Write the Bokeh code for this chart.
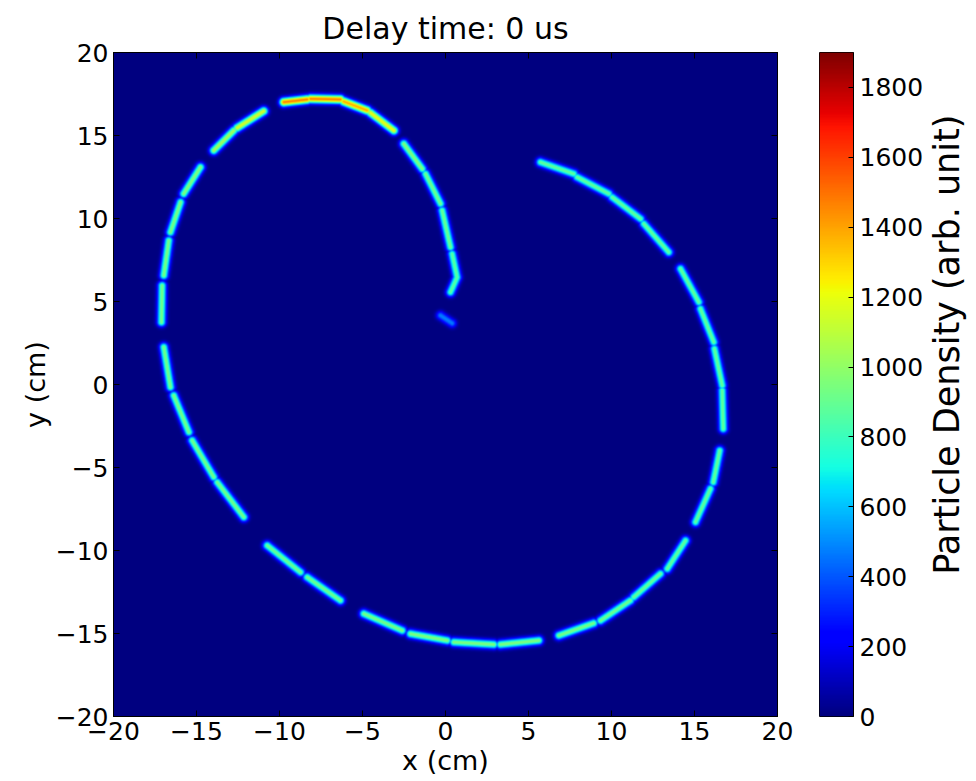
import numpy as np
from bokeh.plotting import figure
from bokeh.layouts import row
from bokeh.models import Range1d, LinearColorMapper, FixedTicker, LinearAxis, Label
from bokeh.embed import file_html
from bokeh.resources import INLINE

# ---------------- data (cm) : dashes of the particle spiral ----------------
dash_x0 = [-0.30, 0.30, 0.70, 0.30, -0.30, -1.40, -3.11, -4.72, -6.33, -8.33,
           -10.95, -12.75, -14.76, -15.96, -16.67, -17.07, -16.97, -16.37, -15.26, -13.75,
           -10.74, -8.33, -4.92, -2.11, 0.50, 3.31, 6.83, 9.34, 11.34, 13.36,
           15.06, 16.13, 16.73, 16.67, 16.16, 15.26, 13.45, 11.75, 9.84, 7.73]
dash_y0 = [4.16, 5.56, 6.46, 8.27, 10.89, 12.99, 15.30, 16.51, 17.17, 17.17,
           16.47, 15.30, 13.09, 10.98, 8.67, 5.96, 2.25, -0.66, -3.37, -5.89,
           -9.70, -11.61, -13.81, -15.02, -15.52, -15.66, -15.12, -14.22, -12.81, -11.10,
           -8.29, -5.89, -2.67, -0.06, 2.55, 4.96, 7.97, 9.98, 11.49, 12.69]
dash_x1 = [0.40, 0.70, 0.40, -0.20, -1.20, -2.51, -4.52, -6.13, -8.13, -9.74,
           -12.55, -13.96, -15.77, -16.57, -16.97, -17.11, -16.57, -15.46, -13.96, -12.15,
           -8.73, -6.33, -2.61, 0.10, 2.91, 5.62, 8.93, 11.14, 12.95, 14.46,
           15.96, 16.52, 16.67, 16.20, 15.36, 14.16, 11.95, 10.04, 7.93, 5.72]
dash_y1 = [3.69, 6.46, 7.87, 10.48, 12.69, 14.50, 16.37, 17.05, 17.21, 17.01,
           15.46, 14.10, 11.49, 9.17, 6.57, 3.75, -0.16, -2.87, -5.58, -7.99,
           -11.31, -13.01, -14.82, -15.42, -15.66, -15.42, -14.38, -13.01, -11.40, -9.40,
           -6.28, -3.98, -0.36, 2.15, 4.56, 6.97, 9.68, 11.28, 12.49, 13.39]
dash_peak = [470, 860, 860, 900, 910, 950, 1200, 1380, 1460, 1460,
             1150, 1030, 950, 930, 930, 920, 920, 920, 920, 920,
             900, 910, 930, 950, 950, 950, 930, 910, 890, 880,
             880, 880, 880, 880, 880, 880, 880, 880, 880, 880]

x_ticks = [-20, -15, -10, -5, 0, 5, 10, 15, 20]
y_ticks = [-20, -15, -10, -5, 0, 5, 10, 15, 20]
cbar_ticks = [0, 200, 400, 600, 800, 1000, 1200, 1400, 1600, 1800]
cbar_max = 1900

# ---------------- density image ----------------
N = 664
sigma = 0.18
c = -20 + (np.arange(N) + 0.5) * 40.0 / N
X, Y = np.meshgrid(c, c)
dens = np.zeros((N, N))
for x0, y0, x1, y1, pk in zip(dash_x0, dash_y0, dash_x1, dash_y1, dash_peak):
    dx, dy = x1 - x0, y1 - y0
    L2 = dx * dx + dy * dy
    t = np.clip(((X - x0) * dx + (Y - y0) * dy) / L2, 0, 1)
    d2 = (X - (x0 + t * dx)) ** 2 + (Y - (y0 + t * dy)) ** 2
    dens = np.maximum(dens, pk * np.exp(-d2 / (2 * sigma ** 2)))

# jet palette
tt = np.linspace(0, 1, 256)
r = np.interp(tt, [0, 0.35, 0.66, 0.89, 1], [0, 0, 1, 1, 0.5])
g = np.interp(tt, [0, 0.125, 0.375, 0.64, 0.91, 1], [0, 0, 1, 1, 0, 0])
b = np.interp(tt, [0, 0.11, 0.34, 0.65, 1], [0.5, 1, 1, 0, 0])
jet = ["#%02x%02x%02x" % (int(round(a * 255)), int(round(bb * 255)), int(round(cc * 255)))
       for a, bb, cc in zip(r, g, b)]
mapper = LinearColorMapper(palette=jet, low=0, high=cbar_max)

FONT = "DejaVu Sans"
TICK = "25px"
LAB = "27px"
H = 780

def minus(v):
    return str(v).replace("-", "\u2212")

p = figure(width=797, height=H, x_range=Range1d(-20, 20), y_range=Range1d(-20, 20),
           output_backend="svg", toolbar_location=None,
           min_border_left=113, min_border_right=20, min_border_top=52, min_border_bottom=64,
           title="Delay time: 0 us")
p.title.align = "center"
p.title.text_font = FONT
p.title.text_font_size = "30px"
p.title.text_font_style = "normal"
p.title.text_color = "#000000"
p.title.standoff = 14
p.grid.visible = False
p.outline_line_color = "black"
p.image(image=[dens], x=-20, y=-20, dw=40, dh=40, color_mapper=mapper)

for ax, ticks in ((p.xaxis[0], x_ticks), (p.yaxis[0], y_ticks)):
    ax.ticker = FixedTicker(ticks=ticks)
    ax.major_label_overrides = {v: minus(v) for v in ticks}
    ax.major_label_text_font = FONT
    ax.major_label_text_font_size = TICK
    ax.major_label_text_color = "#000000"
    ax.axis_label_text_font = FONT
    ax.axis_label_text_font_size = LAB
    ax.axis_label_text_font_style = "normal"
    ax.axis_label_text_color = "#000000"
    ax.major_tick_in = 6
    ax.major_tick_out = 0
    ax.minor_tick_line_color = None
    ax.axis_line_color = "black"
    ax.major_label_standoff = 5
    ax.axis_label_standoff = 2
p.xaxis.axis_label = "x (cm)"
p.yaxis.axis_label = "y (cm)"

for side, ticks in (("above", x_ticks), ("right", y_ticks)):
    ax = LinearAxis(ticker=FixedTicker(ticks=ticks), major_label_text_font_size="1px",
                    major_label_text_color=None,
                    major_tick_in=6, major_tick_out=0, minor_tick_line_color=None,
                    axis_line_color="black", major_label_standoff=0)
    p.add_layout(ax, side)

# ---------------- colorbar ----------------
cb = figure(width=129, height=H, x_range=Range1d(0, 1), y_range=Range1d(0, cbar_max),
            output_backend="svg", toolbar_location=None, y_axis_location="right",
            min_border_left=22, min_border_right=73, min_border_top=52, min_border_bottom=64)
cb.xaxis.visible = False
cb.grid.visible = False
cb.outline_line_color = "black"
grad = np.linspace(0, cbar_max, 512).reshape(512, 1)
cb.image(image=[grad], x=0, y=0, dw=1, dh=cbar_max, color_mapper=mapper)
ya = cb.yaxis[0]
ya.ticker = FixedTicker(ticks=cbar_ticks)
ya.major_label_text_font = FONT
ya.major_label_text_font_size = TICK
ya.major_label_text_color = "#000000"
ya.major_tick_in = 5
ya.major_tick_out = 0
ya.minor_tick_line_color = None
ya.axis_line_color = "black"
ya.major_label_standoff = 6

# colorbar label panel (label drawn inside its own frame, reading bottom-to-top)
lb = figure(width=50, height=H, x_range=Range1d(0, 1), y_range=Range1d(0, 1),
            output_backend="svg", toolbar_location=None,
            min_border_left=0, min_border_right=0, min_border_top=52, min_border_bottom=64)
lb.xaxis.visible = False
lb.yaxis.visible = False
lb.grid.visible = False
lb.outline_line_color = None
lb.background_fill_color = None
lb.border_fill_color = None
lb.add_layout(Label(x=0.4, y=0.56, text="Particle Density (arb. unit)",
                    angle=90, angle_units="deg", text_align="center", text_baseline="middle",
                    text_font=FONT, text_font_size="35px", text_color="#000000"))

layout = row(p, cb, lb)
open("out.html", "w").write(file_html(layout, INLINE))
